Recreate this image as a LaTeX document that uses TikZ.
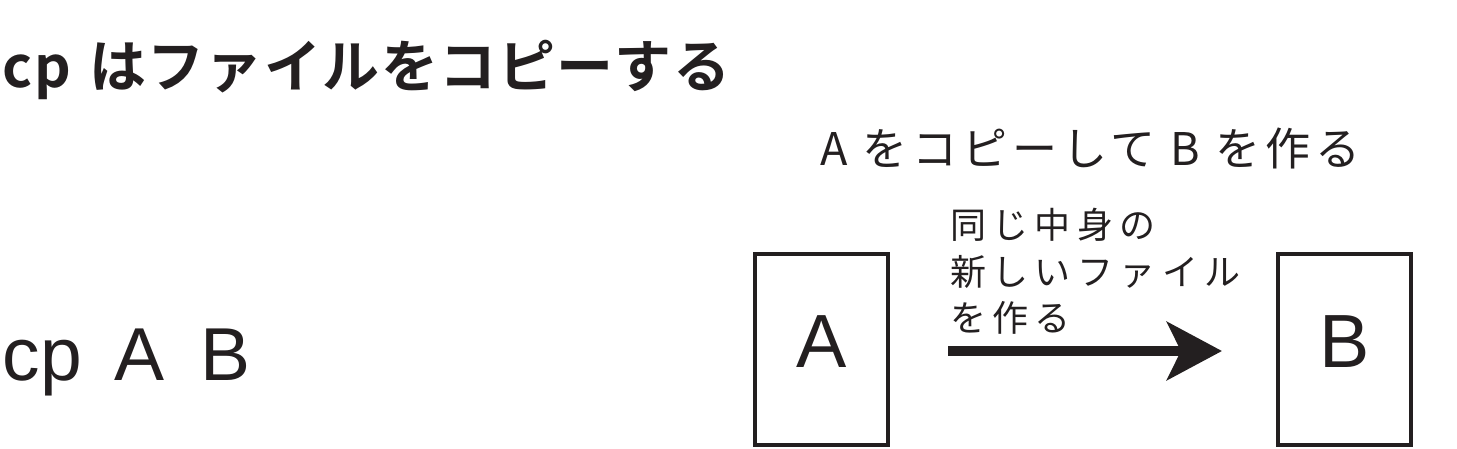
\documentclass[tikz,border=0pt]{standalone}
\usepackage{fontspec}
\setmainfont{Liberation Sans}
\newfontfamily\cjk{Noto Sans CJK JP}
\newfontfamily\cjkb{Noto Sans CJK JP Bold}
\usetikzlibrary{arrows.meta}
\definecolor{ink}{RGB}{35,31,32}
\begin{document}
\begin{tikzpicture}[x=0.5pt,y=-0.5pt,
  every node/.style={inner sep=0pt,outer sep=0pt,text=ink},
  filebox/.style={draw=ink,line width=2pt,minimum width=66.5pt,minimum height=95.5pt,
    font=\fontsize{37.7}{40}\selectfont,text depth=7.5pt},
  titletext/.style={anchor=base west,font=\cjkb\fontsize{28.5}{30}\selectfont\addfontfeature{LetterSpace=2.5}},
  subtext/.style={anchor=base west,font=\cjk\fontsize{22.5}{26}\selectfont\addfontfeature{LetterSpace=11}},
  notetext/.style={anchor=base west,align=left,font=\cjk\fontsize{18}{23}\selectfont\addfontfeature{LetterSpace=18}},
  cmdtext/.style={anchor=base west,font=\fontsize{37.5}{42}\selectfont},
  copyarrow/.style={draw=ink,line width=5pt,-{Stealth[length=27.5pt,width=29pt,inset=7pt]}}]
\useasboundingbox (0,0) rectangle (1457,449);
\node[titletext] (title) at (3,88) {cp\hspace{9pt}はファイルをコピーする};
\node[subtext] (sub) at (820,165) {A をコピーして B を作る};
\node[cmdtext] (cmd) at (3,380) {cp\hspace{16pt}A\hspace{18pt}B};
\node[filebox] (A) at (821.5,349.5) {A};
\node[filebox] (B) at (1344.5,349.5) {B};
\node[notetext] (n1) at (950,238) {同じ中身の};
\node[notetext] (n2) at (950,285) {新しいファイル};
\node[notetext] (n3) at (950,331) {を作る};
\coordinate (s) at ([xshift=30pt,yshift=-0.75pt]A.east);
\coordinate (e) at ([xshift=-28pt,yshift=-0.75pt]B.west);
\draw[copyarrow] (s) -- (e);
\end{tikzpicture}
\end{document}
